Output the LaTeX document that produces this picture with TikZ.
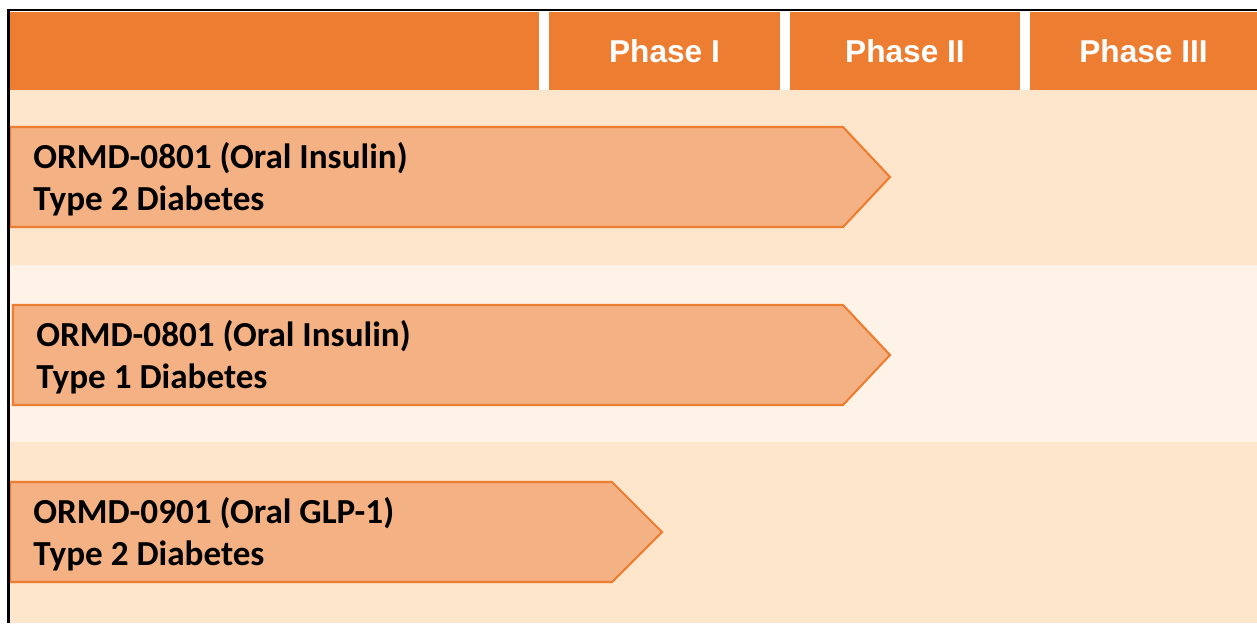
\documentclass[tikz,border=0pt]{standalone}
\usepackage{fontspec}
\setmainfont{Carlito}
\newfontfamily\headfont{Liberation Sans}
\usetikzlibrary{positioning}
\definecolor{hdorange}{HTML}{ED7D31}
\definecolor{barfill}{HTML}{F4B183}
\definecolor{bandA}{HTML}{FDE6CB}
\definecolor{bandB}{HTML}{FEF3E6}

\begin{document}
\begin{tikzpicture}[x=0.02cm, y=-0.02cm,
    head/.style = {fill=hdorange, text=white, inner sep=0pt, minimum height=1.56cm,
                   font=\headfont\bfseries\fontsize{18}{21}\selectfont},
    bar/.style = {draw=hdorange, fill=barfill, line width=1.2pt, line join=miter},
    label/.style = {anchor=west, align=left, inner sep=0pt,
                    font=\bfseries\fontsize{20}{24}\selectfont}]
    % Frame
    \useasboundingbox (0,0) rectangle (1257,623);
    \fill[white] (0,0) rectangle (1257,623);

    % Bands
    \fill[bandA] (10,90) rectangle (1257,265);
    \fill[bandB] (10,265) rectangle (1257,442);
    \fill[bandA] (10,442) rectangle (1257,623);

    % Header
    \node[head, minimum width=10.58cm] (h0) at (274.5,51) {};
    \node[head, minimum width=4.62cm] (ph1) at (664.5,51) {Phase I};
    \node[head, minimum width=4.6cm] (ph2) at (905,51) {Phase II};
    \node[head, minimum width=4.54cm] (ph3) at (1143.5,51) {Phase III};

    % Bars
    \draw[bar] (10,127) -- (843,127) -- (890,177) -- (843,227) -- (10,227) -- cycle;
    \draw[bar] (13,305) -- (843,305) -- (890,355) -- (843,405) -- (13,405) -- cycle;
    \draw[bar] (10,482) -- (612,482) -- (662,532) -- (612,582) -- (10,582) -- cycle;

    \node[label] (t1) at (33,179) {ORMD-0801 (Oral Insulin)\\Type 2 Diabetes};
    \node[label] (t2) at (36,357) {ORMD-0801 (Oral Insulin)\\Type 1 Diabetes};
    \node[label] (t3) at (33,534) {ORMD-0901 (Oral GLP-1)\\Type 2 Diabetes};

    % Border
    \draw[line width=1.7pt] (8.5,623) -- (8.5,10) -- (1257,10);
\end{tikzpicture}
\end{document}
